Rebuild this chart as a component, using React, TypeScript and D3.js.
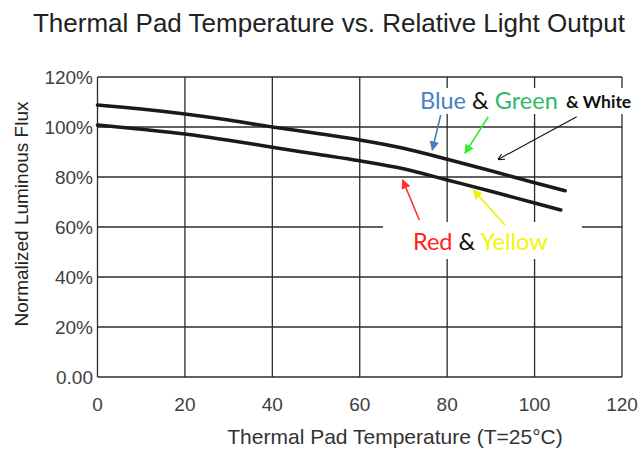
import React from "react";
import * as d3 from "d3";

const temps = [0, 10, 20, 30, 40, 50, 60, 70, 80, 90, 100, 107];
const blueGreenWhite = [108.8, 107.2, 105.2, 102.8, 100, 97.5, 94.8, 91.5, 87.1, 82.5, 77.7, 74.5];
const tempsRY = [0, 10, 20, 30, 40, 50, 60, 70, 80, 90, 100, 106];
const redYellow = [100.8, 99.1, 97.2, 94.7, 91.9, 89.2, 86.5, 83.3, 78.8, 74.3, 69.6, 66.8];
const xTicks = [0, 20, 40, 60, 80, 100, 120];
const yTicks = [0, 20, 40, 60, 80, 100, 120];
const yTickLabels = ["0.00", "20%", "40%", "60%", "80%", "100%", "120%"];

const W = 643, H = 452;
const L = 97.5, R = 622, T = 77, B = 377;

export default function App() {
  const x = d3.scaleLinear().domain([0, 120]).range([L, R]);
  const y = d3.scaleLinear().domain([0, 120]).range([B, T]);
  const line = d3.line<[number, number]>().x(d => x(d[0])).y(d => y(d[1])).curve(d3.curveMonotoneX);
  const upper = line(temps.map((t, i) => [t, blueGreenWhite[i]]));
  const lower = line(tempsRY.map((t, i) => [t, redYellow[i]]));
  const font = "'Liberation Sans', Arial, sans-serif";
  const cal = "Lato, 'Open Sans', sans-serif";
  const grid = "#2b2b2b";
  const arrow = (x1: number, y1: number, x2: number, y2: number, color: string, id: string, w = 1.6) => (
    <line x1={x1} y1={y1} x2={x2} y2={y2} stroke={color} strokeWidth={w} markerEnd={`url(#${id})`} />
  );
  const marker = (id: string, color: string, open = false) => (
    <marker id={id} viewBox="0 0 10 10" refX="9" refY="5" markerWidth="6" markerHeight="6" orient="auto" markerUnits="strokeWidth">
      {open ? <path d="M0,0 L10,5 L0,10" fill="none" stroke={color} strokeWidth="1.5" /> : <path d="M0,0 L10,5 L0,10 z" fill={color} />}
    </marker>
  );
  return (
    <svg width={W} height={H} style={{ position: "absolute", left: 0, top: 0, background: "#fff" }}>
      <defs>
        {marker("mb", "#4a7fc0")}
        {marker("mg", "#33ee33")}
        {marker("mk", "#111", true)}
        {marker("mr", "#ff3030")}
        {marker("my", "#f0f000")}
      </defs>
      <rect width={W} height={H} fill="#fff" />
      <text x={329} y={32} textAnchor="middle" fontFamily={font} fontSize={26} fill="#222">Thermal Pad Temperature vs. Relative Light Output</text>
      {xTicks.map(t => (
        <line key={"vx" + t} x1={x(t)} x2={x(t)} y1={T} y2={B} stroke={grid} strokeWidth={1.3} />
      ))}
      {yTicks.map(t => (
        <line key={"hy" + t} x1={L} x2={R} y1={y(t)} y2={y(t)} stroke={grid} strokeWidth={1.3} />
      ))}
      {xTicks.map(t => (
        <text key={"xl" + t} x={x(t)} y={411} textAnchor="middle" fontFamily={font} fontSize={19} fill="#404040">{t}</text>
      ))}
      {yTicks.map((t, i) => (
        <text key={"yl" + t} x={93} y={y(t) + 7} textAnchor="end" fontFamily={font} fontSize={19} fill="#404040">{yTickLabels[i]}</text>
      ))}
      <text x={395} y={444} textAnchor="middle" fontFamily={font} fontSize={21} fill="#333">Thermal Pad Temperature (T=25°C)</text>
      <text transform={`translate(28,${214}) rotate(-90)`} textAnchor="middle" fontFamily={font} fontSize={19} fill="#222">Normalized Luminous Flux</text>
      <path d={upper || ""} fill="none" stroke="#1a1a1a" strokeWidth={3.5} strokeLinecap="round" />
      <path d={lower || ""} fill="none" stroke="#1a1a1a" strokeWidth={3.5} strokeLinecap="round" />
      <rect x={412} y={88} width={224} height={26} fill="#fff" />
      <rect x={383} y={222} width={199} height={37} fill="#fff" />
      <text x={420} y={109} fontFamily={cal} fontSize={23.5} fill="#4a7fc0">Blue <tspan fill="#111">&amp;</tspan> <tspan fill="#2fb86a">Green</tspan></text>
      <text x={566} y={108} fontFamily={cal} fontSize={17.5} fontWeight="bold" fill="#111">&amp; White</text>
      <text x={413} y={250} fontFamily={cal} fontSize={23.5} fill="#ff2020">Red <tspan fill="#111">&amp;</tspan> <tspan fill="#f5f500">Yellow</tspan></text>
      {arrow(440.7, 115, 432.3, 150, "#4a7fc0", "mb")}
      {arrow(488.3, 116.7, 465, 153.3, "#33ee33", "mg")}
      {arrow(576.7, 116.7, 498.3, 159.3, "#111", "mk", 1.1)}
      {arrow(419.3, 220, 402.7, 180, "#ff3030", "mr")}
      {arrow(505, 225, 473.3, 190, "#f0f000", "my")}
    </svg>
  );
}
